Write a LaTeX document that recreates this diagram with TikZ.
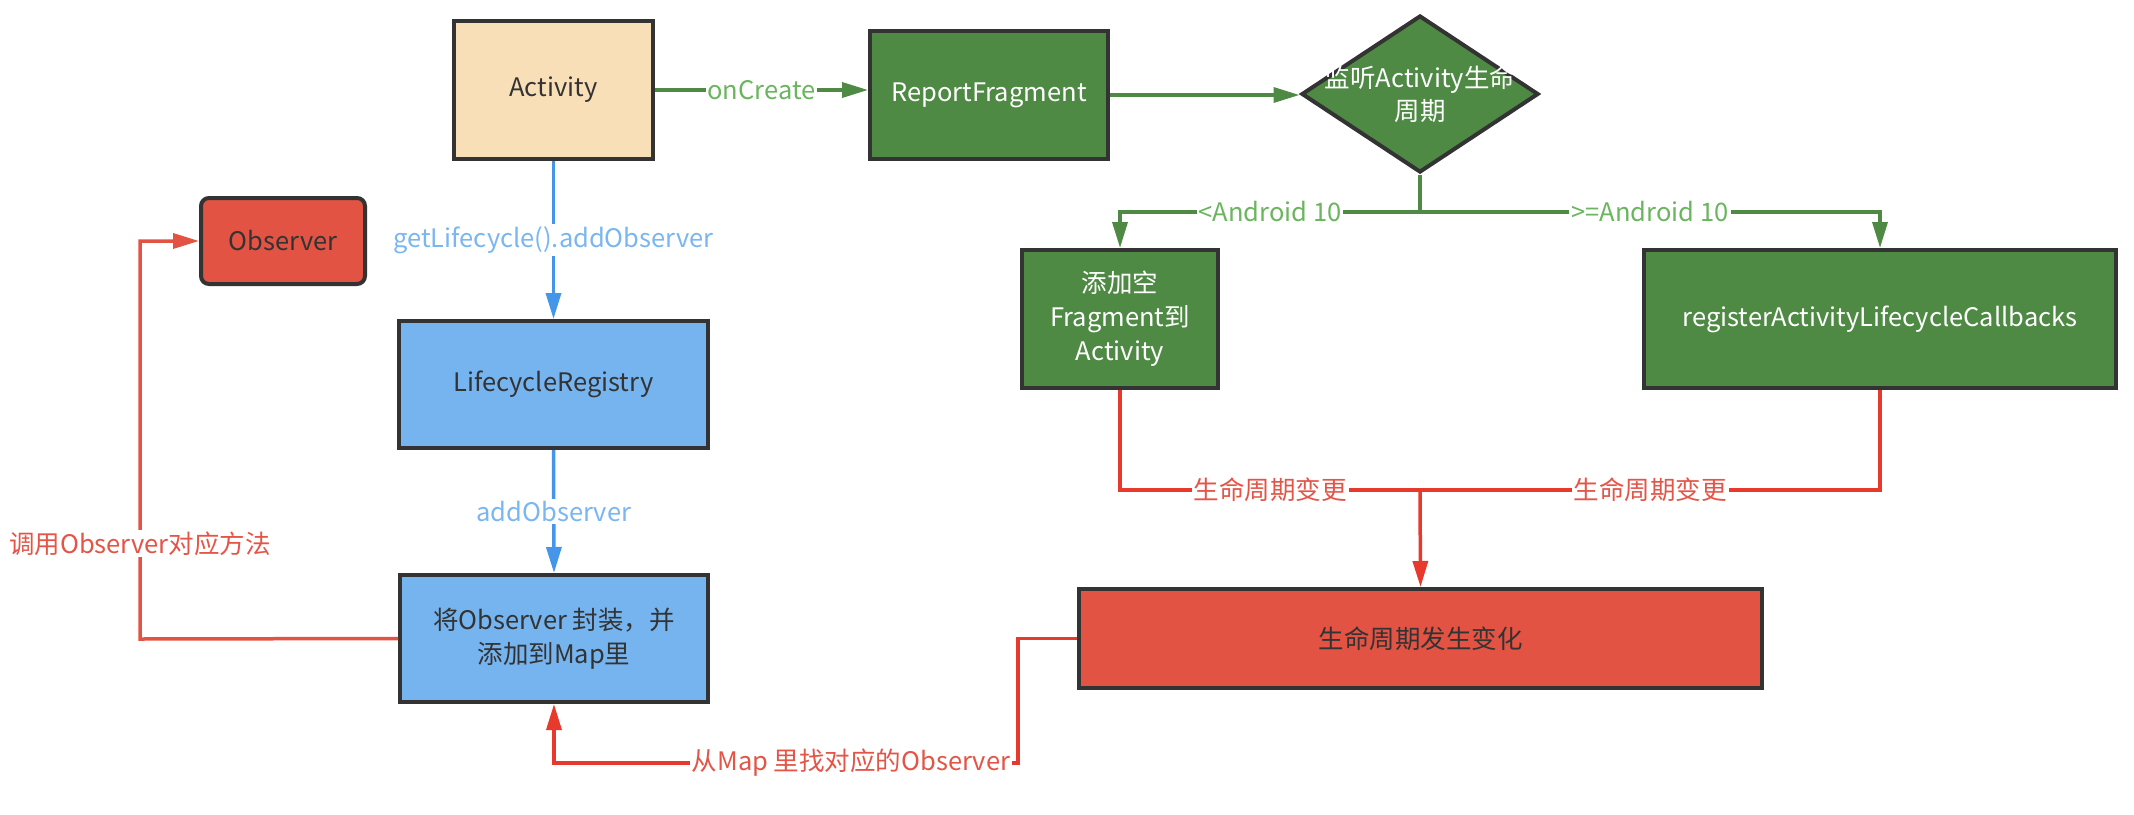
\documentclass[tikz,border=0pt]{standalone}
\usepackage{fontspec}
\setmainfont{Noto Sans CJK SC}
\usetikzlibrary{positioning,arrows.meta,shapes.geometric}

\definecolor{actfill}{HTML}{F9DFB8}
\definecolor{grnfill}{HTML}{4F8A45}
\definecolor{blufill}{HTML}{76B4EF}
\definecolor{redfill}{HTML}{E25343}
\definecolor{edge}{HTML}{333333}
\definecolor{grnln}{HTML}{4E8A44}
\definecolor{grntext}{HTML}{6AB55E}
\definecolor{bluln}{HTML}{4596E8}
\definecolor{blutext}{HTML}{7AB6F0}
\definecolor{redln}{HTML}{E83A2C}
\definecolor{redtext}{HTML}{E45447}

\begin{document}
\begin{tikzpicture}[x=1pt,y=-1pt,
    box/.style={draw=edge, line width=4pt, inner sep=0pt, align=center, text=edge,
                font=\fontsize{25.5}{34}\selectfont},
    gbox/.style={box, fill=grnfill, text=white},
    lbl/.style={fill=white, inner sep=2pt, font=\fontsize{25.5}{30}\selectfont},
    tip/.style={-{Triangle[length=26pt,width=15pt]}},
    gline/.style={draw=grnln, line width=3.5pt},
    glink/.style={gline, tip},
    bline/.style={draw=bluln, line width=3.5pt, tip},
    rline/.style={draw=redln, line width=3.5pt},
    rlink/.style={rline, tip}]

    \useasboundingbox (0,0) rectangle (2134,814);

    % boxes
    \node[box, fill=actfill, minimum width=199pt, minimum height=138pt] (act) at (553.5,90) {Activity};
    \node[gbox, minimum width=238pt, minimum height=128pt] (rf) at (989,95) {ReportFragment};
    \node[gbox, diamond, minimum width=237pt, minimum height=157pt,
          label={[text=white, align=center, font=\fontsize{25.5}{33}\selectfont]center:监听Activity生命\\周期}] (dm) at (1420,94) {};
    \node[gbox, minimum width=196pt, minimum height=138pt] (frag) at (1120,319) {添加空\\Fragment到\\Activity};
    \node[gbox, minimum width=472pt, minimum height=138pt] (cb) at (1880,319) {registerActivityLifecycleCallbacks};
    \node[box, fill=redfill, minimum width=683pt, minimum height=99pt] (chg) at (1420.5,638.5) {生命周期发生变化};
    \node[box, fill=redfill, rounded corners=8pt, minimum width=164pt, minimum height=86pt] (obs) at (283,241) {Observer};
    \node[box, fill=blufill, minimum width=309pt, minimum height=127pt] (reg) at (553.5,384.5) {LifecycleRegistry};
    \node[box, fill=blufill, minimum width=308pt, minimum height=127pt] (wrap) at (554,638.5) {将Observer 封装，并\\添加到Map里};

    \coordinate (split) at (1420,212);
    \coordinate (join) at (1420,490);
    \coordinate (bend) at (1018,763);
    \coordinate (ret) at (140,639);

    % green flow
    \draw[glink] (act.east) -- node[lbl, text=grntext] {onCreate} (act.east -| rf.west);
    \draw[glink] (rf.east) -- (rf.east -| dm.west);
    \draw[gline] (dm.south) -- (split);
    \draw[glink] (split) -| node[lbl, text=grntext, pos=0.25] {<Android 10} (frag.north);
    \draw[glink] (split) -| node[lbl, text=grntext, pos=0.25] {>=Android 10} (cb.north);

    % red flow
    \draw[rline] (frag.south) |- node[lbl, text=redtext, pos=0.75] {生命周期变更} (join);
    \draw[rline] (cb.south) |- node[lbl, text=redtext, pos=0.75] {生命周期变更} (join);
    \draw[rlink] (join) -- (chg.north);
    \draw[rlink] (chg.west) -| (bend) -| node[lbl, text=redtext, pos=0.18] {从Map 里找对应的Observer} (wrap.south);

    % blue flow
    \draw[bline] (act.south) -- node[lbl, text=blutext] {getLifecycle().addObserver} (reg.north);
    \draw[bline] (reg.south) -- node[lbl, text=blutext] {addObserver} (wrap.north);

    \draw[rlink, draw=redfill] (wrap.west) -- (ret) |- node[lbl, text=redtext, pos=0.12] {调用Observer对应方法} (obs.west);
\end{tikzpicture}
\end{document}
